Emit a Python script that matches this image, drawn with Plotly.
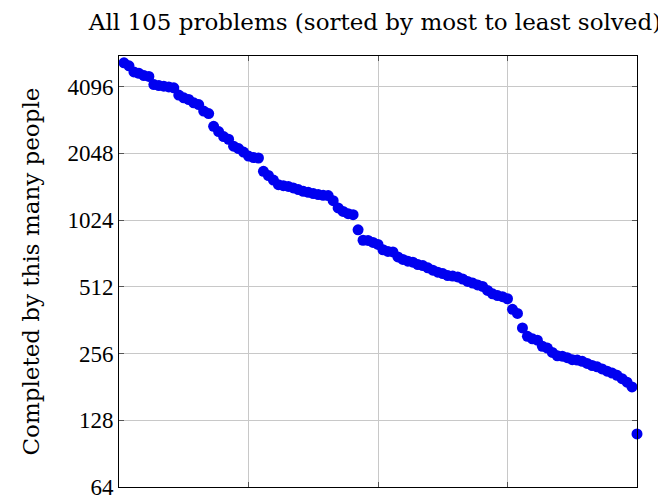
import plotly.graph_objects as go

# Number of people who completed each problem, sorted from most to least solved
problem_rank = list(range(1, 106))
completed = [
    5625, 5240, 5080, 4765, 4700, 4592, 4547, 4181, 4139, 4110,
    4080, 4041, 3750, 3642, 3580, 3457, 3396, 3174, 3092, 2711,
    2565, 2436, 2369, 2205, 2151, 2074, 1989, 1960, 1950, 1699,
    1626, 1550, 1478, 1463, 1452, 1429, 1405, 1380, 1366, 1348,
    1334, 1324, 1320, 1252, 1161, 1120, 1094, 1083, 925, 830,
    828, 811, 795, 752, 739, 735, 698, 680, 668, 661,
    645, 638, 623, 608, 596, 587, 575, 572, 567, 555,
    541, 532, 522, 514, 493, 476, 467, 462, 452, 405,
    388, 334, 306, 298, 294, 276, 271, 259, 250, 249,
    245, 240, 239, 236, 231, 226, 223, 218, 213, 209,
    204, 197, 190, 181, 111,
]
y_ticks = [64, 128, 256, 512, 1024, 2048, 4096]
x_ticks = [27, 53, 79]

tick_font = "Liberation Serif, serif"
label_font = "DejaVu Serif, Liberation Serif, serif"

# page body has an 8px margin, so the figure is a bit smaller than the window
W, H = 658, 495
L, R, T, B = 111, 29, 48, 16

fig = go.Figure()
fig.add_trace(
    go.Scatter(
        x=problem_rank,
        y=completed,
        mode="markers",
        marker=dict(color="#0000f0", size=11, line=dict(width=0)),
        cliponaxis=False,
        showlegend=False,
    )
)

fig.add_annotation(
    text="Completed by this many people",
    textangle=-90,
    xref="paper", yref="paper",
    x=(22 - L) / (W - L - R), y=0.5,
    xanchor="center", yanchor="middle",
    showarrow=False,
    font=dict(family=label_font, size=23, color="black"),
)

fig.update_layout(
    width=W,
    height=H,
    margin=dict(l=L, r=R, t=T, b=B),
    paper_bgcolor="white",
    plot_bgcolor="white",
    font=dict(family=tick_font, size=23, color="black"),
    title=dict(
        text="All 105 problems (sorted by most to least solved)",
        x=367 / W,
        xanchor="center",
        y=1 - 14 / H,
        yanchor="middle",
        font=dict(family=label_font, size=23),
    ),
    xaxis=dict(
        range=[1, 105],
        tickvals=x_ticks,
        showticklabels=False,
        ticks="inside",
        ticklen=5,
        tickcolor="#555",
        showgrid=True,
        gridcolor="#c8c8c8",
        gridwidth=1,
        showline=True,
        linecolor="black",
        linewidth=1,
        mirror="ticks",
        zeroline=False,
        automargin=False,
    ),
    yaxis=dict(
        type="log",
        range=[1.8061, 3.75012],
        tickvals=y_ticks,
        ticktext=[str(v) for v in y_ticks],
        ticks="inside",
        ticklen=5,
        tickcolor="#555",
        showgrid=True,
        gridcolor="#c8c8c8",
        gridwidth=1,
        showline=True,
        linecolor="black",
        linewidth=1,
        mirror="ticks",
        zeroline=False,
        automargin=False,
    ),
)

fig.write_html("out.html")
